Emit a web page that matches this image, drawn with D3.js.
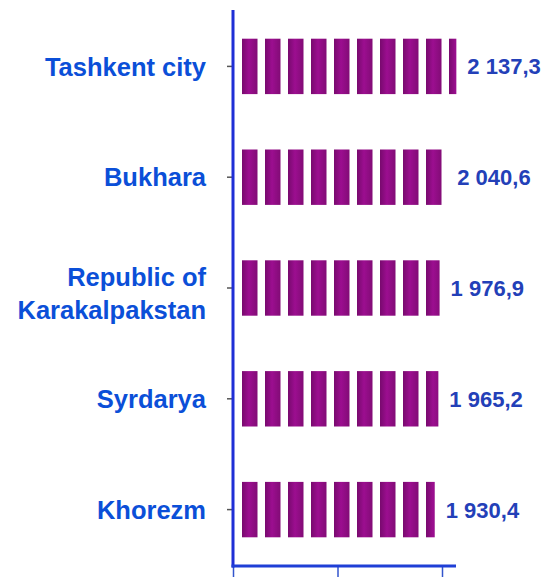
<!DOCTYPE html>
<html>
<head>
<meta charset="utf-8">
<script src="https://cdn.jsdelivr.net/npm/d3@7"></script>
<style>
  body { margin: 0; background: #fff; }
  text { font-family: "Liberation Sans", Arial, sans-serif; font-weight: bold; }
</style>
</head>
<body>
<div id="chart"></div>
<script>
// data
var regions = ["Tashkent city", "Bukhara", "Republic of\nKarakalpakstan", "Syrdarya", "Khorezm"];
var values = [2137.3, 2040.6, 1976.9, 1965.2, 1930.4];
var valueLabels = ["2 137,3", "2 040,6", "1 976,9", "1 965,2", "1 930,4"];
var xTicks = [0, 1000, 2000];

var svgWidth = 547;
var svgHeight = 577;

var axisX = 233;   // y axis line
var axisY = 566;   // x axis line

var svg = d3.select("#chart")
    .append("svg")
    .attr("width", svgWidth)
    .attr("height", svgHeight);

// x scale, zero sits on the y axis
var xScale = d3.scaleLinear()
    .domain([0, 2000])
    .range([axisX, 442]);

// y band scale for the regions
var yScale = d3.scaleBand()
    .domain(regions)
    .range([11, 565])
    .paddingInner(0.5)
    .paddingOuter(0.25);

// striped fill for the bars
var defs = svg.append("defs");
var grad = defs.append("linearGradient")
    .attr("id", "seg");
grad.append("stop").attr("offset", "0%").attr("stop-color", "#780a6e");
grad.append("stop").attr("offset", "45%").attr("stop-color", "#9c0e90");
grad.append("stop").attr("offset", "100%").attr("stop-color", "#820c76");

var barStart = xScale(0) + 9;
var pattern = defs.append("pattern")
    .attr("id", "stripes")
    .attr("patternUnits", "userSpaceOnUse")
    .attr("x", barStart)
    .attr("y", 0)
    .attr("width", 23)
    .attr("height", svgHeight);
pattern.append("rect")
    .attr("x", 0)
    .attr("y", 0)
    .attr("width", 15.5)
    .attr("height", svgHeight)
    .attr("fill", "url(#seg)");

// bars
svg.selectAll("rect.bar")
    .data(values)
    .enter()
    .append("rect")
    .attr("class", "bar")
    .attr("x", barStart)
    .attr("y", (d, i) => yScale(regions[i]))
    .attr("width", d => xScale(d) - barStart)
    .attr("height", yScale.bandwidth())
    .attr("fill", "url(#stripes)");

// value labels
svg.selectAll("text.val")
    .data(values)
    .enter()
    .append("text")
    .attr("class", "val")
    .attr("x", d => xScale(d) + 11)
    .attr("y", (d, i) => yScale(regions[i]) + yScale.bandwidth() / 2)
    .attr("dy", "0.36em")
    .attr("font-size", 22)
    .attr("fill", "#2340b8")
    .text((d, i) => valueLabels[i]);

// y axis: small ticks, then heavy blue line
var leftAxis = d3.axisLeft(yScale).tickSize(5).tickFormat("");
var yAxisG = svg.append("g")
    .attr("transform", `translate(${axisX - 1}, 0)`)
    .call(leftAxis);
yAxisG.select(".domain").remove();
yAxisG.selectAll(".tick line").attr("stroke", "#555").attr("stroke-width", 1.5);

// x axis ticks going down
var bottomAxis = d3.axisBottom(xScale).tickValues(xTicks).tickSize(14).tickFormat("");
var xAxisG = svg.append("g")
    .attr("transform", `translate(0, ${axisY})`)
    .call(bottomAxis);
xAxisG.select(".domain").remove();
xAxisG.selectAll(".tick line").attr("stroke", "#3355cc").attr("stroke-width", 1.5);

// axis lines
svg.append("line")
    .attr("x1", axisX).attr("x2", axisX)
    .attr("y1", 10).attr("y2", axisY + 1.5)
    .attr("stroke", "#1f2fd6").attr("stroke-width", 3);
svg.append("line")
    .attr("x1", axisX - 1.5).attr("x2", 456)
    .attr("y1", axisY).attr("y2", axisY)
    .attr("stroke", "#1f3fd6").attr("stroke-width", 3);

// region labels, right aligned
var catLabels = svg.selectAll("text.cat")
    .data(regions)
    .enter()
    .append("text")
    .attr("class", "cat")
    .attr("text-anchor", "end")
    .attr("font-size", 25.5)
    .attr("fill", "#0b4fd8")
    .attr("transform", d => `translate(206, ${yScale(d) + yScale.bandwidth() / 2})`);

catLabels.each(function(d) {
    var lines = d.split("\n");
    var t = d3.select(this);
    // two-line label sits a little low in the original
    var shift = lines.length > 1 ? 5 : 0;
    lines.forEach(function(line, k) {
        t.append("tspan")
            .attr("x", 0)
            .attr("y", (k - (lines.length - 1) / 2) * 33 + shift)
            .attr("dy", "0.36em")
            .text(line);
    });
});
</script>
</body>
</html>
